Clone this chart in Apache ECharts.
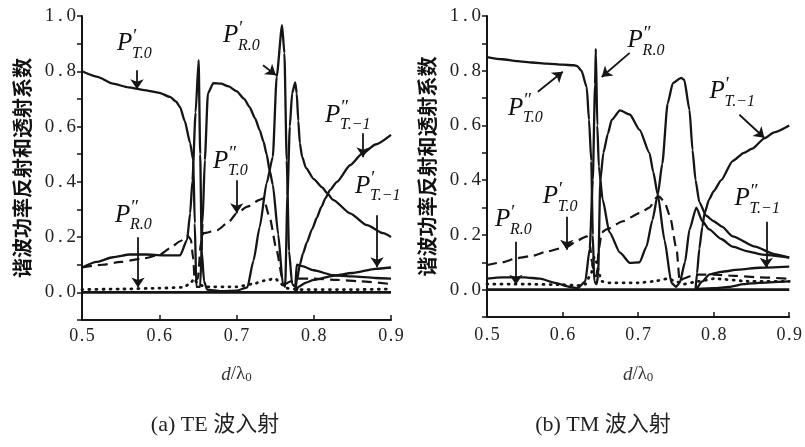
<!DOCTYPE html>
<html><head><meta charset="utf-8">
<script src="https://cdn.jsdelivr.net/npm/echarts@6/dist/echarts.min.js"></script>
<style>html,body{margin:0;padding:0;background:#fff}#c{width:805px;height:447px}</style>
</head><body><div id="c"></div>
<script>
// ---------- (a) TE incidence ----------
const teT1_0 = [[0.50,0.80],[0.52,0.78],[0.54,0.755],[0.56,0.742],[0.58,0.732],[0.60,0.722],[0.614,0.707],[0.622,0.69],[0.627,0.67],[0.633,0.62],[0.640,0.54],[0.644,0.478],[0.646,0.25],[0.648,0.02],[0.653,0.02],[0.656,0.25],[0.659,0.478],[0.663,0.72],[0.670,0.757],[0.68,0.755],[0.69,0.745],[0.70,0.728],[0.71,0.70],[0.717,0.67],[0.724,0.63],[0.730,0.587],[0.735,0.545],[0.739,0.50],[0.743,0.44],[0.747,0.39],[0.754,0.21],[0.760,0.03],[0.763,0.02],[0.766,0.35],[0.769,0.60],[0.772,0.72],[0.776,0.76],[0.778,0.72],[0.780,0.62],[0.782,0.54],[0.785,0.49],[0.79,0.45],[0.80,0.41],[0.811,0.38],[0.817,0.36],[0.825,0.335],[0.847,0.286],[0.869,0.243],[0.89,0.214],[0.90,0.20]];
const teR1_0 = [[0.50,0.09],[0.519,0.11],[0.54,0.127],[0.562,0.137],[0.583,0.137],[0.605,0.134],[0.627,0.134],[0.636,0.19],[0.640,0.286],[0.643,0.405],[0.647,0.65],[0.651,0.84],[0.653,0.50],[0.655,0.15],[0.658,0.04],[0.662,0.01],[0.68,0.004],[0.70,0.006],[0.714,0.018],[0.722,0.115],[0.730,0.236],[0.739,0.395],[0.747,0.49],[0.752,0.78],[0.759,0.967],[0.762,0.866],[0.765,0.478],[0.768,0.15],[0.772,0.03],[0.776,0.02],[0.778,0.10],[0.785,0.095],[0.80,0.08],[0.825,0.062],[0.85,0.058],[0.88,0.052],[0.90,0.05]];
const teT1_m1 = [[0.777,0.0],[0.78,0.02],[0.79,0.035],[0.80,0.045],[0.825,0.06],[0.85,0.07],[0.88,0.085],[0.90,0.09]];
const teT2_m1 = [[0.776,0.0],[0.778,0.04],[0.782,0.10],[0.786,0.14],[0.791,0.18],[0.798,0.23],[0.804,0.27],[0.810,0.31],[0.815,0.34],[0.821,0.37],[0.83,0.40],[0.847,0.46],[0.862,0.50],[0.88,0.535],[0.90,0.57]];
const teT2_0 = [[0.50,0.09],[0.527,0.10],[0.55,0.11],[0.58,0.123],[0.60,0.135],[0.614,0.16],[0.627,0.185],[0.637,0.205],[0.641,0.19],[0.644,0.12],[0.646,0.04],[0.650,0.05],[0.654,0.18],[0.657,0.214],[0.675,0.225],[0.69,0.255],[0.70,0.286],[0.714,0.31],[0.73,0.335],[0.735,0.34],[0.743,0.27],[0.752,0.152],[0.759,0.055],[0.763,0.03],[0.77,0.04],[0.78,0.05],[0.80,0.05],[0.83,0.045],[0.86,0.04],[0.90,0.03]];
const teR2_0 = [[0.50,0.01],[0.55,0.012],[0.60,0.015],[0.63,0.018],[0.64,0.03],[0.645,0.05],[0.65,0.03],[0.66,0.02],[0.70,0.02],[0.72,0.03],[0.74,0.045],[0.75,0.05],[0.758,0.03],[0.765,0.015],[0.78,0.01],[0.85,0.01],[0.90,0.012]];

// ---------- (b) TM incidence ----------
const tmT2_0 = [[0.50,0.85],[0.52,0.842],[0.54,0.835],[0.56,0.83],[0.58,0.826],[0.60,0.822],[0.615,0.82],[0.619,0.818],[0.625,0.80],[0.632,0.74],[0.635,0.62],[0.638,0.47],[0.640,0.20],[0.642,0.03],[0.645,0.02],[0.647,0.05],[0.650,0.40],[0.654,0.50],[0.660,0.57],[0.665,0.62],[0.676,0.655],[0.689,0.64],[0.702,0.584],[0.715,0.50],[0.720,0.43],[0.726,0.347],[0.735,0.18],[0.744,0.025],[0.75,0.01],[0.755,0.025],[0.762,0.10],[0.768,0.22],[0.777,0.30],[0.785,0.25],[0.794,0.22],[0.81,0.185],[0.825,0.157],[0.845,0.14],[0.864,0.128],[0.90,0.117]];
const tmR1_0 = [[0.50,0.04],[0.52,0.045],[0.55,0.045],[0.57,0.04],[0.59,0.025],[0.61,0.01],[0.62,0.005],[0.63,0.03],[0.636,0.15],[0.640,0.40],[0.643,0.75],[0.644,0.88],[0.646,0.60],[0.648,0.45],[0.653,0.33],[0.662,0.21],[0.676,0.135],[0.689,0.098],[0.702,0.10],[0.711,0.157],[0.719,0.255],[0.726,0.347],[0.732,0.46],[0.739,0.68],[0.746,0.755],[0.757,0.774],[0.761,0.767],[0.768,0.657],[0.772,0.51],[0.776,0.40],[0.781,0.32],[0.79,0.27],[0.80,0.25],[0.811,0.23],[0.825,0.195],[0.855,0.157],[0.88,0.13],[0.90,0.117]];
const tmT1_m1 = [[0.776,0.0],[0.778,0.06],[0.781,0.15],[0.785,0.23],[0.788,0.28],[0.794,0.33],[0.80,0.36],[0.81,0.40],[0.825,0.47],[0.84,0.50],[0.851,0.515],[0.867,0.553],[0.88,0.575],[0.90,0.60]];
const tmT2_m1 = [[0.777,0.0],[0.785,0.03],[0.794,0.055],[0.81,0.065],[0.833,0.073],[0.86,0.08],[0.90,0.084]];
const tmR1_m1 = [[0.777,0.003],[0.80,0.005],[0.82,0.01],[0.84,0.02],[0.86,0.025],[0.90,0.03]];
const tmT1_0 = [[0.50,0.09],[0.52,0.10],[0.54,0.115],[0.561,0.124],[0.58,0.14],[0.606,0.157],[0.62,0.18],[0.632,0.195],[0.636,0.17],[0.639,0.10],[0.642,0.05],[0.645,0.05],[0.648,0.15],[0.652,0.21],[0.658,0.22],[0.68,0.25],[0.702,0.28],[0.715,0.30],[0.724,0.335],[0.728,0.34],[0.735,0.32],[0.742,0.27],[0.751,0.146],[0.755,0.03],[0.76,0.04],[0.77,0.05],[0.78,0.055],[0.80,0.055],[0.83,0.05],[0.86,0.045],[0.90,0.04]];
const tmR2_0 = [[0.50,0.02],[0.55,0.02],[0.60,0.018],[0.62,0.015],[0.63,0.02],[0.638,0.06],[0.642,0.12],[0.645,0.10],[0.648,0.06],[0.652,0.03],[0.66,0.025],[0.70,0.025],[0.72,0.03],[0.74,0.04],[0.75,0.03],[0.76,0.02],[0.78,0.03],[0.80,0.04],[0.85,0.03],[0.90,0.03]];

const zeroLine = [[0.5,0],[0.9,0]];

// annotation anchors (data coordinates)
const annTE = [
  {p:'\u2032', sub:'T.0', at:[0.5453,0.899]},
  {p:'\u2032', sub:'R.0', at:[0.6825,0.928]},
  {p:'\u2033', sub:'T.0', at:[0.6696,0.475]},
  {p:'\u2032', sub:'T.\u22121', at:[0.8534,0.384]},
  {p:'\u2033', sub:'T.\u22121', at:[0.8146,0.641]},
  {p:'\u2033', sub:'R.0', at:[0.5427,0.279]}
];
const arrowsTE = [
  [[0.5712,0.804],[0.5712,0.735]],
  [[0.7343,0.822],[0.7511,0.786]],
  [[0.7003,0.406],[0.7003,0.286]],
  [[0.8819,0.279],[0.8819,0.0906]],
  [[0.8638,0.576],[0.8638,0.489]],
  [[0.5725,0.199],[0.5725,0.018]]
];
const annTM = [
  {p:'\u2033', sub:'R.0', at:[0.6861,0.909]},
  {p:'\u2033', sub:'T.0', at:[0.5277,0.664]},
  {p:'\u2032', sub:'T.\u22121', at:[0.7944,0.723]},
  {p:'\u2032', sub:'T.0', at:[0.5739,0.339]},
  {p:'\u2032', sub:'R.0', at:[0.5106,0.255]},
  {p:'\u2033', sub:'T.\u22121', at:[0.8274,0.332]}
];
const arrowsTM = [
  [[0.6888,0.865],[0.6518,0.777]],
  [[0.5673,0.723],[0.6003,0.796]],
  [[0.834,0.639],[0.867,0.555]],
  [[0.6056,0.266],[0.6056,0.146]],
  [[0.5383,0.175],[0.5383,0.018]],
  [[0.8696,0.248],[0.8696,0.08]]
];
const yName = '谐波功率反射和透射系数';
const captions = ['(a) TE 波入射', '(b) TM 波入射'];

const INK = '#151515';
const SERIF = '"Liberation Serif", "DejaVu Serif", serif';

function xAx(gi, gap, margin) {
  return {
    type: 'value', gridIndex: gi, min: 0.5, max: 0.9, interval: 0.1,
    axisLine: {onZero: false, lineStyle: {color: INK, width: 2}},
    axisTick: {inside: true, length: 5, lineStyle: {color: INK, width: 1.5}},
    axisLabel: {margin: margin, color: '#222', fontFamily: SERIF, fontSize: 18,
      formatter: v => v.toFixed(1).split('').join('\u200A')},
    splitLine: {show: false},
    name: '{i|d}{n|/λ}{s|0}', nameLocation: 'middle', nameGap: gap,
    nameTextStyle: {rich: {
      i: {fontFamily: SERIF, fontStyle: 'italic', fontSize: 19, color: '#333', lineHeight: 22, verticalAlign: 'bottom'},
      n: {fontFamily: SERIF, fontSize: 19, color: '#333', lineHeight: 22, verticalAlign: 'bottom'},
      s: {fontFamily: SERIF, fontSize: 13, color: '#333', lineHeight: 18, verticalAlign: 'bottom'}
    }}
  };
}
function yAx(gi) {
  return {
    type: 'value', gridIndex: gi, min: -0.1, max: 1.0, interval: 0.1,
    axisLine: {onZero: false, lineStyle: {color: INK, width: 2}},
    axisTick: {inside: false, length: 5, lineStyle: {color: INK, width: 1.5}},
    axisLabel: {margin: 6, color: '#222', fontFamily: SERIF, fontSize: 19,
      formatter: v => { const k = Math.round(v * 10); return (k >= 0 && k % 2 === 0) ? (k / 10).toFixed(1).split('').join('\u2009') : ''; }},
    splitLine: {show: false},
    name: yName, nameLocation: 'middle', nameRotate: 90, nameGap: 50,
    nameTextStyle: {fontFamily: '"Noto Sans CJK SC"', fontSize: 20, fontWeight: 'bold', color: '#111'}
  };
}
function ln(data, gi, kind, w) {
  const ls = {color: INK, width: w || 2.3};
  if (kind === 'dash') { ls.type = [10, 6]; ls.width = 2.2; }
  if (kind === 'dot') { ls.type = [1, 6]; ls.width = 2.8; ls.cap = 'round'; }
  return {type: 'line', xAxisIndex: gi, yAxisIndex: gi, data: data, showSymbol: false,
    symbol: 'none', smooth: 0.2, smoothMonotone: 'x', lineStyle: ls, silent: true, animation: false, z: 3};
}
function arrows(list, gi) {
  return {type: 'lines', coordinateSystem: 'cartesian2d', xAxisIndex: gi, yAxisIndex: gi,
    symbol: ['none', 'arrow'], symbolSize: 10, silent: true, animation: false, z: 6,
    lineStyle: {color: INK, width: 1.8, opacity: 1, curveness: 0},
    data: list.map(c => ({coords: c}))};
}

const chart = echarts.init(document.getElementById('c'), null, {renderer: 'canvas'});
chart.setOption({
  backgroundColor: '#fff',
  animation: false,
  grid: [
    {left: 82, top: 16, width: 309, height: 304},
    {left: 487, top: 16, width: 303, height: 301}
  ],
  xAxis: [xAx(0, 42, 7), xAx(1, 45, 9)],
  yAxis: [yAx(0), yAx(1)],
  series: [
    ln(zeroLine, 0, 'solid', 2.6),
    ln(teT1_0, 0), ln(teR1_0, 0), ln(teT1_m1, 0), ln(teT2_m1, 0),
    ln(teT2_0, 0, 'dash'), ln(teR2_0, 0, 'dot'),
    arrows(arrowsTE, 0),
    ln(zeroLine, 1, 'solid', 2.6),
    ln(tmT2_0, 1), ln(tmR1_0, 1), ln(tmT1_m1, 1), ln(tmT2_m1, 1), ln(tmR1_m1, 1),
    ln(tmT1_0, 1, 'dash'), ln(tmR2_0, 1, 'dot'),
    arrows(arrowsTM, 1)
  ]
});

function labelGraphics(list, gi) {
  const out = [];
  list.forEach(a => {
    const pt = chart.convertToPixel({gridIndex: gi}, a.at);
    const x = pt[0], y = pt[1];
    out.push({type: 'text', x: x, y: y, z: 10, silent: true,
      style: {text: 'P', font: 'italic 25px ' + SERIF, fill: '#111', align: 'left', verticalAlign: 'middle', textAlign: 'left', textVerticalAlign: 'middle'}});
    out.push({type: 'text', x: x + 15, y: y - 7, z: 10, silent: true,
      style: {text: a.p, font: 'italic 19px ' + SERIF, fill: '#111', align: 'left', verticalAlign: 'middle', textAlign: 'left', textVerticalAlign: 'middle'}});
    out.push({type: 'text', x: x + 15, y: y + 10, z: 10, silent: true,
      style: {text: a.sub, font: 'italic 16px ' + SERIF, fill: '#111', align: 'left', verticalAlign: 'middle', textAlign: 'left', textVerticalAlign: 'middle'}});
  });
  return out;
}
const g = [].concat(labelGraphics(annTE, 0), labelGraphics(annTM, 1));
const CAPFONT = '22px "Liberation Serif", "Noto Sans CJK SC", serif';
g.push({type: 'text', x: 215, y: 425, silent: true,
  style: {text: captions[0], font: CAPFONT, fill: '#222', align: 'center', verticalAlign: 'middle', textAlign: 'center', textVerticalAlign: 'middle'}});
g.push({type: 'text', x: 603, y: 425, silent: true,
  style: {text: captions[1], font: CAPFONT, fill: '#222', align: 'center', verticalAlign: 'middle', textAlign: 'center', textVerticalAlign: 'middle'}});
chart.setOption({graphic: g});
</script></body></html>
